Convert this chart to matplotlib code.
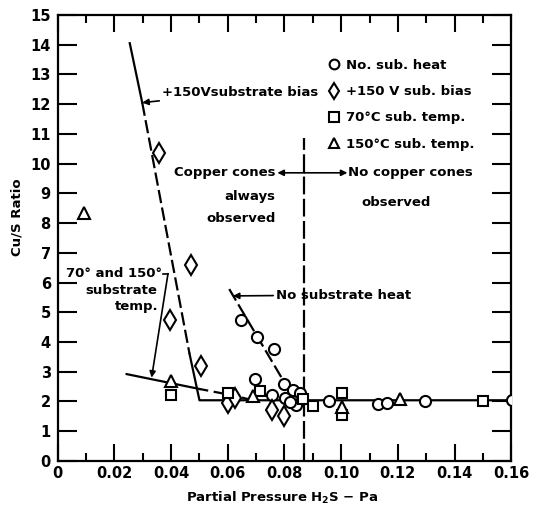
import matplotlib
matplotlib.use("Agg")
import matplotlib.pyplot as plt
from matplotlib.lines import Line2D

plt.rcParams['font.family'] = ['DejaVu Sans']

# datos
heat_x = [0.0646, 0.0704, 0.0764, 0.0696, 0.0800, 0.0831, 0.0853, 0.0755, 0.0802, 0.0841,
          0.0820, 0.0958, 0.1129, 0.1163, 0.1296, 0.1602]
heat_y = [4.73, 4.18, 3.75, 2.77, 2.60, 2.40, 2.27, 2.21, 2.12, 1.89,
          1.98, 2.00, 1.93, 1.96, 2.00, 2.06]

bias_x = [0.0358, 0.0469, 0.0396, 0.0505, 0.0602, 0.0625, 0.0755, 0.0800]
bias_y = [10.35, 6.60, 4.73, 3.19, 1.95, 2.10, 1.72, 1.50]

t70_x = [0.0399, 0.0602, 0.0714, 0.0866, 0.0902, 0.1002, 0.1002, 0.1502]
t70_y = [2.21, 2.27, 2.35, 2.09, 1.84, 2.27, 1.53, 2.00]

t150_x = [0.0092, 0.0399, 0.0690, 0.1002, 0.1208]
t150_y = [8.35, 2.68, 2.18, 1.80, 2.07]

# curvas dibujadas a mano en el original
bias_solid_x = [0.0254, 0.0298]
bias_solid_y = [14.05, 12.05]
bias_dash_x = [0.0298, 0.0465]
bias_dash_y = [12.05, 3.6]
bias_low_x = [0.0465, 0.0500, 0.1600]
bias_low_y = [3.6, 2.04, 2.04]

temp_solid_x = [0.0243, 0.0500]
temp_solid_y = [2.92, 2.42]
temp_dash_x = [0.0500, 0.0620, 0.0680]
temp_dash_y = [2.42, 2.20, 2.06]

heat_line_x = [0.0605, 0.0830]
heat_line_y = [5.78, 2.15]

cone_limit = 0.087

x_ticks = [0, 0.02, 0.04, 0.06, 0.08, 0.10, 0.12, 0.14, 0.16]
x_labels = ["0", "0.02", "0.04", "0.06", "0.08", "0.10", "0.12", "0.14", "0.16"]
legend_labels = ["No. sub. heat", "+150 V sub. bias", "70°C sub. temp.", "150°C sub. temp."]

fig = plt.figure(figsize=(5.45, 5.15), dpi=100)
ax = fig.add_axes([0.106, 0.105, 0.832, 0.866])

mk = dict(linestyle="none", markerfacecolor="white", markeredgecolor="black",
          markeredgewidth=1.5, zorder=4)

# curvas
lw = 1.6
ax.plot(bias_solid_x, bias_solid_y, color="black", lw=lw)
ax.plot(bias_dash_x, bias_dash_y, color="black", lw=lw, linestyle=(0, (6, 2)))
ax.plot(bias_low_x, bias_low_y, color="black", lw=lw)
ax.plot(temp_solid_x, temp_solid_y, color="black", lw=lw)
ax.plot(temp_dash_x, temp_dash_y, color="black", lw=lw, linestyle=(0, (4, 2.5)))
ax.plot(heat_line_x, heat_line_y, color="black", lw=lw, linestyle=(0, (6, 2)))
ax.plot([cone_limit, cone_limit], [0, 10.85], color="black", lw=lw, linestyle=(0, (8, 2)))

# puntos
ax.plot(heat_x, heat_y, marker="o", markersize=8, **mk)
ax.plot(bias_x, bias_y, marker="d", markersize=10, **mk)
ax.plot(t70_x, t70_y, marker="s", markersize=7.5, **mk)
ax.plot(t150_x, t150_y, marker="^", markersize=8, **mk)

# anotaciones
fs = 9.5
arrow = dict(arrowstyle="-|>", color="black", lw=1.2, mutation_scale=9, shrinkA=0, shrinkB=0)
ax.annotate("+150Vsubstrate bias", xy=(0.0298, 12.05), xytext=(0.0368, 12.4),
            ha="left", va="center", fontsize=fs, fontweight="bold", arrowprops=arrow)
ax.annotate("", xy=(0.0775, 9.69), xytext=(cone_limit, 9.69), arrowprops=arrow)
ax.annotate("", xy=(0.1022, 9.69), xytext=(cone_limit, 9.69), arrowprops=arrow)
ax.text(0.0768, 9.69, "Copper cones", ha="right", va="center", fontsize=fs, fontweight="bold")
ax.text(0.0768, 8.88, "always", ha="right", va="center", fontsize=fs, fontweight="bold")
ax.text(0.0768, 8.17, "observed", ha="right", va="center", fontsize=fs, fontweight="bold")
ax.text(0.1025, 9.69, "No copper cones", ha="left", va="center", fontsize=fs, fontweight="bold")
ax.text(0.1070, 8.68, "observed", ha="left", va="center", fontsize=fs, fontweight="bold")

ax.text(0.0368, 6.32, "70° and 150°", ha="right", va="center", fontsize=fs, fontweight="bold")
ax.text(0.0350, 5.73, "substrate", ha="right", va="center", fontsize=fs, fontweight="bold")
ax.text(0.0355, 5.19, "temp.", ha="right", va="center", fontsize=fs, fontweight="bold")
ax.plot([0.0372, 0.0389], [6.30, 6.30], color="black", lw=1.2)
ax.annotate("", xy=(0.0331, 2.80), xytext=(0.0389, 6.30), arrowprops=arrow)

ax.annotate("No substrate heat", xy=(0.0618, 5.55), xytext=(0.0770, 5.58),
            ha="left", va="center", fontsize=fs, fontweight="bold", arrowprops=arrow)

# leyenda
handles = [Line2D([], [], marker="o", markersize=7, **mk),
           Line2D([], [], marker="d", markersize=8.5, **mk),
           Line2D([], [], marker="s", markersize=6.5, **mk),
           Line2D([], [], marker="^", markersize=7, **mk)]
ax.legend(handles, legend_labels, loc="upper left", bbox_to_anchor=(0.598, 0.901),
          frameon=False, handlelength=0.8, handletextpad=0.5, labelspacing=1.0,
          borderpad=0, borderaxespad=0, prop=dict(size=fs, weight="bold"))

# ejes
ax.set_xlim(0, 0.16)
ax.set_ylim(0, 15)
ax.set_xticks(x_ticks)
ax.set_xticklabels(x_labels)
ax.set_xticks([i * 0.01 for i in range(17)], minor=True)
ax.set_yticks(range(16))
ax.tick_params(axis="x", which="major", direction="in", length=12, width=1.5,
               top=True, labelsize=10.5, pad=4)
ax.tick_params(axis="x", which="minor", direction="in", length=6, width=1.5, top=True)
ax.tick_params(axis="y", direction="in", length=14, width=1.5, right=True,
               labelsize=10.5, pad=5)
for lab in ax.get_xticklabels() + ax.get_yticklabels():
    lab.set_fontweight("bold")
for sp in ax.spines.values():
    sp.set_linewidth(1.6)

ax.set_xlabel("Partial Pressure H$_\\mathbf{2}$S \u2212 Pa", fontsize=fs, fontweight="bold")
ax.set_ylabel("Cu/S Ratio", fontsize=fs, fontweight="bold")
ax.xaxis.set_label_coords(0.495, -0.065)
ax.yaxis.set_label_coords(-0.075, 0.547)

plt.savefig("out.png", dpi=100)
plt.close()
